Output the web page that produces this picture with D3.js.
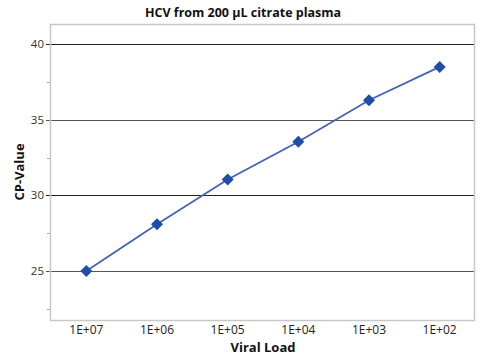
<!DOCTYPE html>
<html>
<head>
<meta charset="utf-8">
<script src="https://cdn.jsdelivr.net/npm/d3@7"></script>
<style>
  body { margin: 0; background: #fff; }
  text { font-family: "Open Sans", "Noto Sans", sans-serif; }
</style>
</head>
<body>
<div id="chart"></div>
<script>
// chart data
let loads = ["1E+07", "1E+06", "1E+05", "1E+04", "1E+03", "1E+02"];
let cpValues = [25.0, 28.1, 31.05, 33.55, 36.3, 38.5];
let majorTicks = [25, 30, 35, 40];
let minorTicks = [22.5, 27.5, 32.5, 37.5];

let width = 487, height = 357;
let plot = {left: 51, top: 24, right: 475, bottom: 320};

let svg = d3.select("#chart").append("svg")
    .attr("width", width)
    .attr("height", height);

let x = d3.scaleBand()
    .domain(loads)
    .range([plot.left, plot.right])
    .padding(0);

let y = d3.scaleLinear()
    .domain([21.76, 41.34])
    .range([plot.bottom, plot.top]);

// gridlines
svg.append("g")
    .selectAll("line")
    .data(majorTicks)
    .enter()
    .append("line")
    .attr("x1", plot.left - 5)
    .attr("x2", plot.right)
    .attr("y1", d => Math.round(y(d)) + 0.5)
    .attr("y2", d => Math.round(y(d)) + 0.5)
    .attr("stroke", function (d) { return d % 10 == 0 ? "#222" : "#555"; })
    .attr("stroke-width", 1);

// minor ticks
svg.append("g")
    .selectAll("line")
    .data(minorTicks)
    .enter()
    .append("line")
    .attr("x1", plot.left - 4)
    .attr("x2", plot.left)
    .attr("y1", d => Math.round(y(d)) + 0.5)
    .attr("y2", d => Math.round(y(d)) + 0.5)
    .attr("stroke", "#aaa");

// frame
svg.append("rect")
    .attr("x", plot.left - 0.5)
    .attr("y", plot.top + 0.5)
    .attr("width", plot.right - plot.left)
    .attr("height", plot.bottom - plot.top)
    .attr("fill", "none")
    .attr("stroke", "#c8c8c8")
    .attr("stroke-width", 1.5);

// y tick labels
svg.append("g")
    .selectAll("text")
    .data(majorTicks)
    .enter()
    .append("text")
    .attr("x", plot.left - 7)
    .attr("y", d => y(d))
    .attr("dy", "0.35em")
    .attr("text-anchor", "end")
    .attr("font-size", "11.5px")
    .attr("fill", "#333")
    .text(d => d);

// x tick labels
svg.append("g")
    .selectAll("text")
    .data(loads)
    .enter()
    .append("text")
    .attr("x", d => x(d) + x.bandwidth() / 2)
    .attr("y", 334)
    .attr("text-anchor", "middle")
    .attr("font-size", "12px")
    .attr("fill", "#222")
    .text(d => d);

// series line
let line = d3.line()
    .x((d, i) => x(loads[i]) + x.bandwidth() / 2)
    .y(d => y(d));

svg.append("path")
    .datum(cpValues)
    .attr("d", line)
    .attr("fill", "none")
    .attr("stroke", "#4463b8")
    .attr("stroke-width", 1.8);

// diamond markers
svg.append("g")
    .selectAll("path")
    .data(cpValues)
    .enter()
    .append("path")
    .attr("transform", (d, i) => "translate(" + (x(loads[i]) + x.bandwidth() / 2) + "," + y(d) + ")")
    .attr("d", "M0,-6L6,0L0,6L-6,0Z")
    .attr("fill", "#1d4ea8");

// titles
svg.append("text")
    .attr("x", (plot.left + plot.right) / 2 - 20)
    .attr("y", 17)
    .attr("text-anchor", "middle")
    .attr("font-size", "12.5px")
    .attr("font-weight", "bold")
    .attr("fill", "#111")
    .text("HCV from 200 µL citrate plasma");

svg.append("text")
    .attr("x", (plot.left + plot.right) / 2)
    .attr("y", 352)
    .attr("text-anchor", "middle")
    .attr("font-size", "13px")
    .attr("font-weight", "bold")
    .attr("fill", "#111")
    .text("Viral Load");

svg.append("text")
    .attr("transform", "translate(24," + (plot.top + plot.bottom) / 2 + ") rotate(-90)")
    .attr("text-anchor", "middle")
    .attr("font-size", "13px")
    .attr("font-weight", "bold")
    .attr("fill", "#111")
    .text("CP-Value");
</script>
</body>
</html>
